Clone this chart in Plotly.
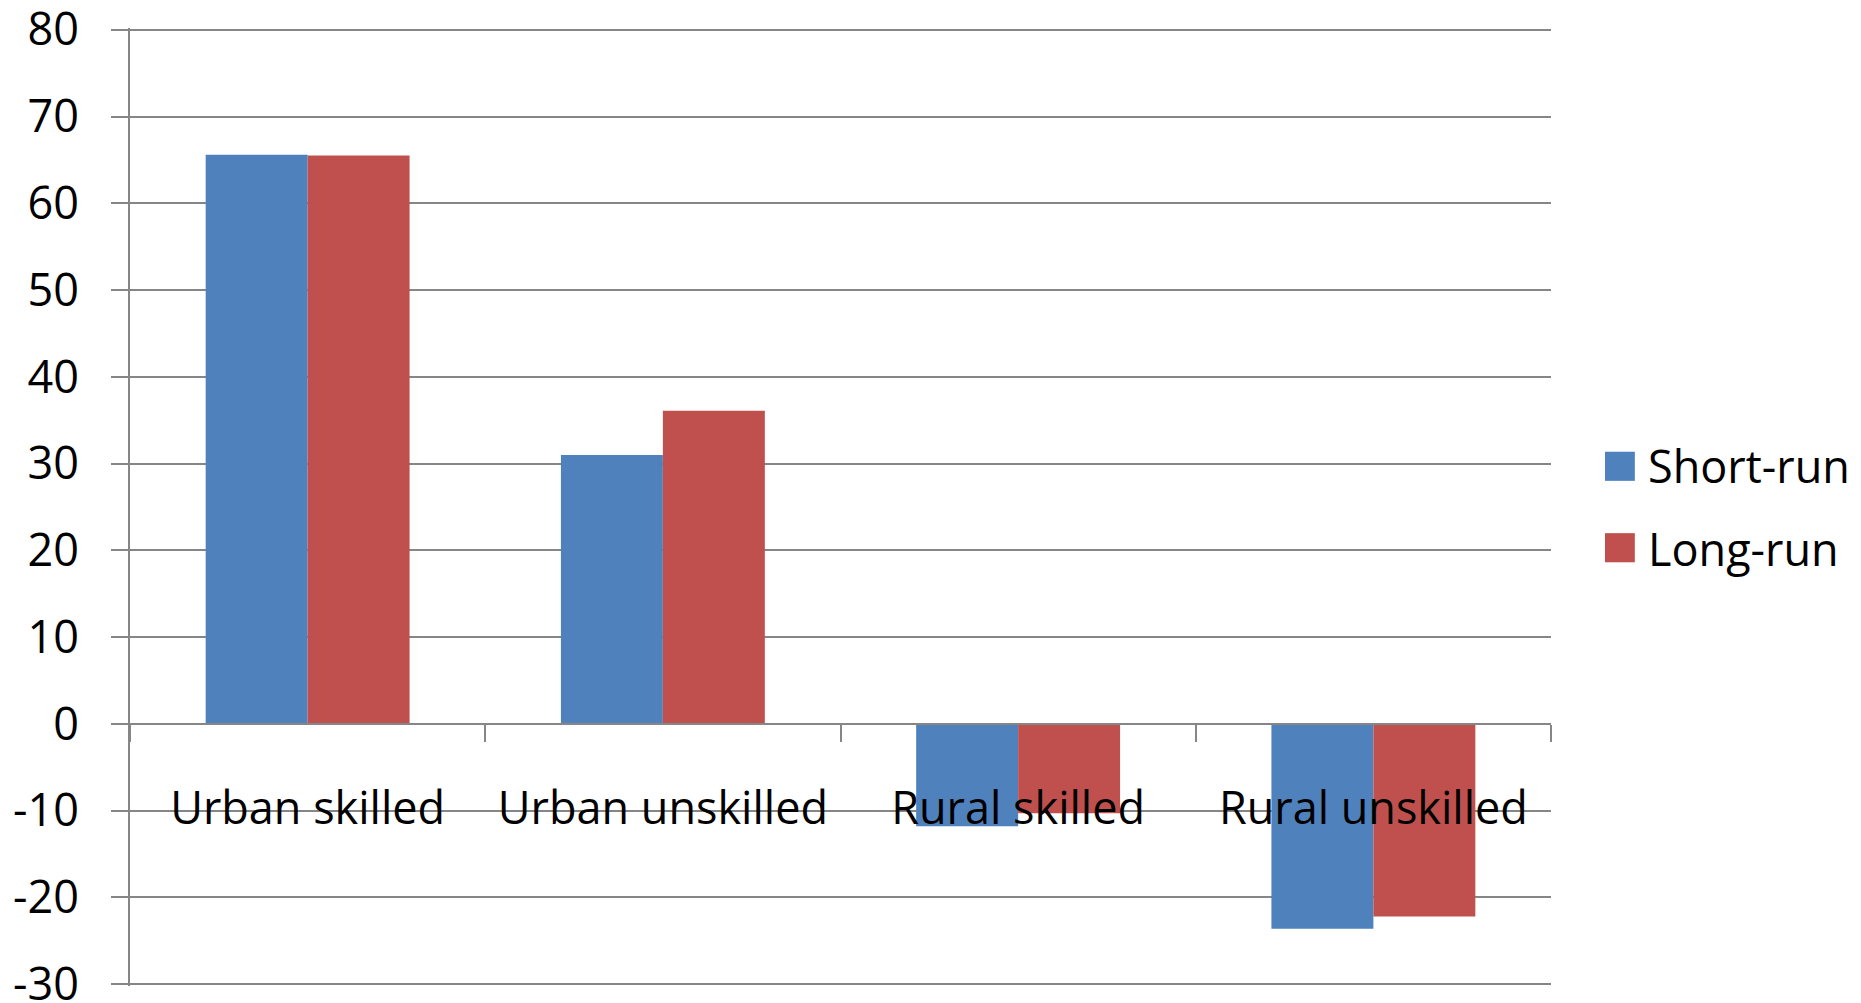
import plotly.graph_objects as go

categories = ["Urban skilled", "Urban unskilled", "Rural skilled", "Rural unskilled"]
short_run = [65.6, 31.0, -11.8, -23.6]
long_run = [65.5, 36.1, -10.3, -22.2]
series_names = ["Short-run", "Long-run"]
y_ticks = [-30, -20, -10, 0, 10, 20, 30, 40, 50, 60, 70, 80]
y_tick_text = ["-30", "-20", "-10", "0", "10", "20", "30", "40", "50", "60", "70", "80"]

BLUE = "#4F81BD"
RED = "#C0504D"
GRID = "#868686"
FONT = "'Open Sans', 'Noto Sans', sans-serif"
FS = 45

fig = go.Figure()
for name, vals, col in [(series_names[0], short_run, BLUE), (series_names[1], long_run, RED)]:
    fig.add_trace(go.Bar(x=categories, y=vals, name=name, marker=dict(color=col, line=dict(width=0)),
                         showlegend=False))

# legend drawn as squares + labels (right side)
legend_items = [(series_names[0], BLUE, 0.5577, 0.5273, 0.543),
                (series_names[1], RED, 0.4727, 0.4423, 0.457)]
for name, col, y1, y0, yt in legend_items:
    fig.add_shape(type="rect", xref="paper", yref="paper", x0=1.038, x1=1.059, y0=y0, y1=y1,
                  fillcolor=col, line=dict(width=0))
    fig.add_annotation(text=name, xref="paper", yref="paper", x=1.067, y=yt, xanchor="left",
                       yanchor="middle", showarrow=False, font=dict(family=FONT, size=FS, color="black"))

ymin, ymax = -30, 80
pad = 0.2
fig.update_layout(
    width=1861, height=1003,
    margin=dict(l=130, r=310, t=28, b=17),
    paper_bgcolor="white", plot_bgcolor="white",
    barmode="group", bargap=0.426, bargroupgap=0,
    showlegend=False,
    font=dict(family=FONT, size=FS, color="black"),
    xaxis=dict(anchor="free", position=(0 - (ymin - pad)) / (ymax - ymin + 2 * pad),
               showline=True, linecolor=GRID, linewidth=2, automargin=False,
               ticks="outside", tickson="boundaries", ticklen=17, tickwidth=2, tickcolor=GRID,
               ticklabelstandoff=45, showgrid=False, layer="above traces",
               ticklabeloverflow="allow",
               tickfont=dict(family=FONT, size=FS, color="black")),
    yaxis=dict(range=[ymin - pad, ymax + pad], tickvals=y_ticks, ticktext=y_tick_text,
               showline=True, linecolor=GRID, linewidth=2, automargin=False,
               ticks="outside", ticklen=17, tickwidth=2, tickcolor=GRID,
               showgrid=True, gridcolor=GRID, gridwidth=2, zeroline=False,
               ticklabeloverflow="allow",
               ticklabelstandoff=23, tickfont=dict(family=FONT, size=FS, color="black")),
)
fig.write_html("out.html")
